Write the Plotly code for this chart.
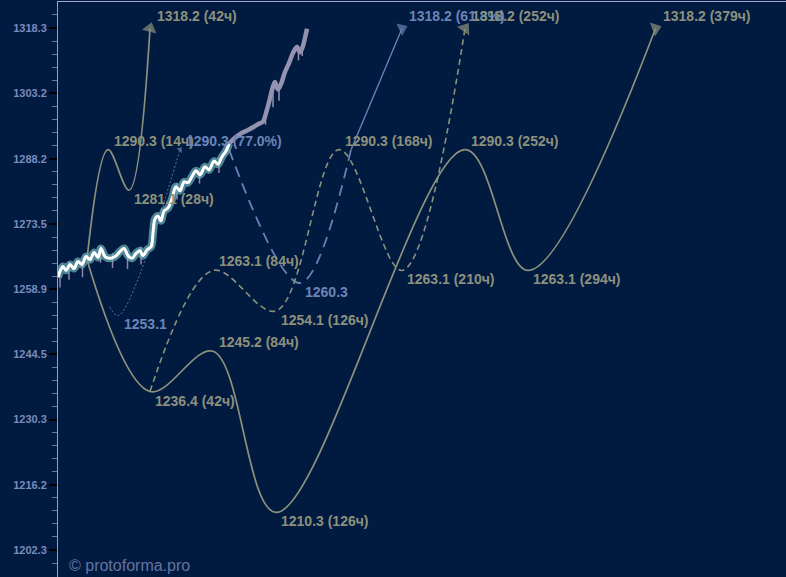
import math
import plotly.graph_objects as go

# ---------------- data ----------------
tick_vals = [1202.3, 1216.2, 1230.3, 1244.5, 1258.9, 1273.5, 1288.2, 1303.2, 1318.3]

# realized price (hours from forecast start, price)
white_h = [-19.3, -18, -16, -14, -11.3, -8.7, -6, -3.3, -0.7, 2, 4.7, 7.3, 9.3, 12, 15.3, 18.7, 22,
           24.7, 27.3, 30, 32.7, 35.3, 37.3, 40, 42.7, 44, 45.3, 47.3, 49.3, 51.3, 54, 56.7, 59.3,
           62, 64.7, 67.3, 70, 72.7, 75.3, 78.7, 81.3, 84.7, 87.3, 90, 92.7, 94.7]
white_p = [1261.6, 1262.9, 1264.0, 1263.1, 1264.4, 1263.5, 1265.1, 1264.4, 1266.2, 1265.5, 1267.1,
           1266.0, 1268.0, 1266.2, 1265.8, 1266.2, 1267.3, 1268.0, 1266.4, 1265.8, 1266.9, 1267.5,
           1266.4, 1267.7, 1268.4, 1271.5, 1274.6, 1275.3, 1274.2, 1276.4, 1277.1, 1279.2, 1281.9,
           1281.0, 1283.0, 1282.8, 1284.2, 1285.5, 1284.6, 1286.4, 1285.7, 1287.7, 1287.0, 1288.7,
           1290.0, 1291.7]
lav_h = [94.7, 98.7, 102.7, 106.7, 110.7, 114, 117.3, 119.3, 121.3, 123.3, 125.3, 127.3, 129.3,
         132, 134.7, 137.3, 140, 142, 144, 145.3, 146.7]
lav_p = [1291.7, 1293.0, 1294.0, 1294.7, 1295.4, 1296.1, 1296.7, 1298.6, 1301.1, 1303.9, 1305.8,
         1304.1, 1305.3, 1308.1, 1310.2, 1312.5, 1313.9, 1312.7, 1314.1, 1316.0, 1318.1]

# candle wicks (hour, low, high)
wick_h = [-18, -12, -3, 9, 17, 27, 36, 44, 60, 75, 88]
wick_lo = [1259.3, 1261.0, 1261.6, 1264.8, 1263.6, 1263.4, 1264.4, 1268.2, 1279.0, 1282.6, 1285.0]
wick_hi = [1263.5, 1265.0, 1265.4, 1268.6, 1267.0, 1267.5, 1268.4, 1272.0, 1282.8, 1286.0, 1288.5]
lwick_h = [119, 124, 128, 141, 143.5]
lwick_lo = [1296.0, 1300.0, 1301.5, 1310.8, 1311.8]
lwick_hi = [1299.5, 1304.5, 1305.0, 1313.8, 1314.6]

# forecast paths
a_h = [0, 42, 84, 126, 252, 294, 379]
a_p = [1265.5, 1236.4, 1245.2, 1210.3, 1290.3, 1263.1, 1318.2]
b_h = [0, 14, 28, 42]
b_p = [1265.5, 1290.3, 1281.1, 1318.2]
c_h = [42, 84, 126, 168, 210, 252]
c_p = [1236.4, 1263.1, 1254.1, 1290.3, 1263.1, 1318.2]
d_h = [15, 21, 62]
d_p = [1255.0, 1253.1, 1290.3]
e_h = [94.7, 142, 176]
e_p = [1290.3, 1260.3, 1290.3]
f_h = [176, 210]
f_p = [1290.3, 1318.2]

# labels: hour, price, text, colour group, placement
labels = [
    (14, 1290.3, "1290.3 (14ч)", "g", "up"),
    (28, 1281.1, "1281.1 (28ч)", "g", "down"),
    (42, 1318.2, "1318.2 (42ч)", "g", "end"),
    (42, 1236.4, "1236.4 (42ч)", "g", "down"),
    (84, 1263.1, "1263.1 (84ч)", "g", "up"),
    (84, 1245.2, "1245.2 (84ч)", "g", "up"),
    (126, 1254.1, "1254.1 (126ч)", "g", "down"),
    (126, 1210.3, "1210.3 (126ч)", "g", "down"),
    (168, 1290.3, "1290.3 (168ч)", "g", "up"),
    (210, 1263.1, "1263.1 (210ч)", "g", "down"),
    (252, 1290.3, "1290.3 (252ч)", "g", "up"),
    (294, 1263.1, "1263.1 (294ч)", "g", "down"),
    (379, 1318.2, "1318.2 (379ч)", "g", "end"),
    (21, 1253.1, "1253.1", "b", "down"),
    (62, 1290.3, "1290.3 (77.0%)", "b", "up"),
    (142, 1260.3, "1260.3", "b", "down"),
    (210, 1318.2, "1318.2 (61.8%)", "b", "end"),
    (252, 1318.2, "1318.2 (252ч)", "g", "end"),
]

# ---------------- style ----------------
BG = "#011a40"
GRAY = "#8c917d"
BLUE = "#6880b4"
LAB_G = "#8c917d"
LAB_B = "#6c84b8"

PX_PER_LN = 5667.0
LN10 = math.log(10)
y_top = math.log10(1318.3) + 26 / (PX_PER_LN * LN10)
y_bot = math.log10(1202.3) - 27 / (PX_PER_LN * LN10)

minor_vals = []
for lo, hi in zip(tick_vals[:-1], tick_vals[1:]):
    for k in range(1, 5):
        minor_vals.append(lo * (hi / lo) ** (k / 5))
minor_vals.append(tick_vals[0] / (tick_vals[1] / tick_vals[0]) ** 0.2)
minor_vals.append(tick_vals[-1] * (tick_vals[-1] / tick_vals[-2]) ** 0.2)

fig = go.Figure()

def line(h, p, color, width, dash="solid", shape="spline", opacity=1.0):
    fig.add_trace(go.Scatter(x=h, y=p, mode="lines", opacity=opacity,
                             line=dict(color=color, width=width, dash=dash, shape=shape, smoothing=1.0),
                             hoverinfo="skip", showlegend=False))

def wicks(hs, lo, hi, color, width):
    xs, ys = [], []
    for h, l, u in zip(hs, lo, hi):
        xs += [h, h, None]
        ys += [l, u, None]
    fig.add_trace(go.Scatter(x=xs, y=ys, mode="lines", line=dict(color=color, width=width),
                             hoverinfo="skip", showlegend=False))

# forecasts
line(d_h, d_p, BLUE, 0.9, dash="2px,2px")
line(e_h, e_p, BLUE, 1.8, dash="11px,7px")
line(f_h, f_p, BLUE, 1.4)
line(c_h, c_p, GRAY, 1.6, dash="6px,4px")
line(a_h, a_p, GRAY, 1.7)
line(b_h, b_p, GRAY, 1.7)

# arrows at path ends
arrow_h = [a_h[-1], b_h[-1], c_h[-1], f_h[-1], d_h[-1]]
arrow_p = [a_p[-1], b_p[-1], c_p[-1], f_p[-1], d_p[-1]]
fig.add_trace(go.Scatter(
    x=arrow_h, y=arrow_p, mode="markers", hoverinfo="skip", showlegend=False,
    marker=dict(symbol="triangle-up", size=[13, 13, 13, 12, 6],
                angle=[70, 15, 35, 65, 40],
                color=[GRAY, GRAY, GRAY, BLUE, BLUE], line=dict(width=0))))

# realized price
wicks(wick_h, wick_lo, wick_hi, "#8e86a6", 1.5)
line(white_h, white_p, "#6fb3bb", 8, shape="spline", opacity=0.7)
line(white_h, white_p, "#ffffff", 3, shape="spline")
wicks(lwick_h, lwick_lo, lwick_hi, "#9592b0", 1.5)
line(lav_h, lav_p, "#9592b0", 4.5, shape="spline")

for h, p, txt, grp, pos in labels:
    if pos == "up":
        xs, ys = 4, 9
    elif pos == "down":
        xs, ys = 3, -9
    else:
        xs, ys = 5, 12
    fig.add_annotation(x=h, y=math.log10(p), text=txt, showarrow=False,
                       xanchor="left", yanchor="middle", xshift=xs, yshift=ys,
                       font=dict(family="Liberation Sans, Arial", size=14,
                                 color=LAB_G if grp == "g" else LAB_B, weight="bold"))

fig.add_annotation(xref="paper", yref="paper", x=(67 - 58) / 728, y=(577 - 565) / 575,
                   text="© protoforma.pro", showarrow=False, xanchor="left", yanchor="middle",
                   font=dict(family="Liberation Sans, Arial", size=16, color="#6474a0"))

fig.update_layout(
    width=786, height=577,
    margin=dict(l=58, r=0, t=2, b=0),
    paper_bgcolor=BG, plot_bgcolor=BG,
    showlegend=False,
    xaxis=dict(range=[-19.33, 466], side="top", showline=True, linecolor="#a3a6c8", linewidth=1,
               showgrid=False, zeroline=False, showticklabels=False, ticks=""),
    yaxis=dict(type="log", range=[y_bot, y_top], tickvals=tick_vals,
               ticktext=[f"{v:.1f}" for v in tick_vals],
               ticks="outside", ticklen=8, tickwidth=2, tickcolor="#000000",
               showline=True, linecolor="#9a9cbc", linewidth=1,
               showgrid=False, zeroline=False,
               tickfont=dict(family="Liberation Sans, Arial", size=11, color="#7a8bbd", weight="bold"),
               minor=dict(tickvals=minor_vals, ticks="outside", ticklen=5, tickwidth=1,
                          tickcolor="#72769a", showgrid=False)),
)

fig.write_html("out.html", config={"displayModeBar": False},
               post_script="document.body.style.margin='0px';document.body.style.overflow='hidden';"
                           "document.body.style.background='" + BG + "';")
